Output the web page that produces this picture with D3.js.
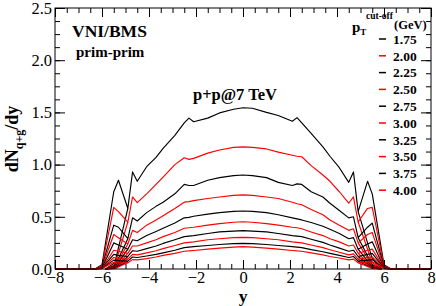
<!DOCTYPE html>
<html>
<head>
<meta charset="utf-8">
<script src="https://cdn.jsdelivr.net/npm/d3@7"></script>
<style>
  body { margin: 0; background: #fff; }
</style>
</head>
<body>
<div id="chart"></div>
<script>
// rapidity grid shared by all curves
const yGrid = [-8, -6.3, -6.0, -5.5, -5.3, -4.9, -4.7, -4.5, -4.1, -3.7, -3.4, -2.9, -2.5, -2.3, -2.1, -1.5, -1.0, -0.4,
  0, 0.4, 1.0, 1.5, 2.1, 2.3, 2.5, 2.9, 3.4, 3.7, 4.1, 4.5, 4.7, 4.9, 5.3, 5.5, 6.0, 6.3, 8];

const cutoffs = ["1.75", "2.00", "2.25", "2.50", "2.75", "3.00", "3.25", "3.50", "3.75", "4.00"];

const pt175 = [0, 0, 0.04, 0.74, 0.85, 0.58, 0.93, 0.84, 0.98, 1.07, 1.155, 1.28, 1.40, 1.445, 1.41, 1.445, 1.495, 1.53,
  1.545, 1.54, 1.50, 1.47, 1.415, 1.45, 1.40, 1.30, 1.17, 1.08, 0.97, 0.83, 0.93, 0.55, 0.84, 0.72, 0.04, 0, 0];
const pt200 = [0, 0, 0.03, 0.59, 0.55, 0.45, 0.69, 0.635, 0.72, 0.81, 0.88, 1.00, 1.065, 1.05, 1.06, 1.11, 1.14, 1.165,
  1.17, 1.165, 1.15, 1.12, 1.09, 1.08, 1.075, 0.99, 0.90, 0.84, 0.74, 0.63, 0.69, 0.45, 0.58, 0.59, 0.03, 0, 0];
const pt225 = [0, 0, 0.02, 0.42, 0.40, 0.29, 0.49, 0.46, 0.54, 0.60, 0.64, 0.72, 0.81, 0.80, 0.80, 0.85, 0.875, 0.895,
  0.90, 0.895, 0.875, 0.83, 0.80, 0.815, 0.81, 0.74, 0.69, 0.63, 0.56, 0.49, 0.50, 0.30, 0.40, 0.44, 0.02, 0, 0];
const pt250 = [0, 0, 0.015, 0.33, 0.30, 0.24, 0.37, 0.35, 0.42, 0.47, 0.51, 0.58, 0.64, 0.645, 0.655, 0.675, 0.69, 0.705,
  0.71, 0.705, 0.69, 0.675, 0.64, 0.625, 0.615, 0.57, 0.52, 0.47, 0.42, 0.37, 0.385, 0.25, 0.33, 0.35, 0.015, 0, 0];
const pt275 = [0, 0, 0.01, 0.25, 0.23, 0.19, 0.28, 0.27, 0.32, 0.36, 0.39, 0.44, 0.49, 0.495, 0.505, 0.525, 0.54, 0.552,
  0.556, 0.552, 0.54, 0.52, 0.49, 0.48, 0.47, 0.445, 0.41, 0.38, 0.34, 0.29, 0.30, 0.19, 0.24, 0.26, 0.01, 0, 0];
const pt300 = [0, 0, 0.01, 0.18, 0.17, 0.15, 0.22, 0.22, 0.25, 0.28, 0.31, 0.35, 0.39, 0.395, 0.40, 0.42, 0.435, 0.448,
  0.453, 0.448, 0.435, 0.42, 0.40, 0.395, 0.385, 0.355, 0.32, 0.29, 0.26, 0.22, 0.23, 0.15, 0.18, 0.19, 0.01, 0, 0];
const pt325 = [0, 0, 0.008, 0.14, 0.13, 0.12, 0.175, 0.17, 0.195, 0.22, 0.245, 0.28, 0.31, 0.315, 0.32, 0.34, 0.355, 0.363,
  0.367, 0.363, 0.355, 0.34, 0.32, 0.315, 0.31, 0.285, 0.255, 0.23, 0.20, 0.17, 0.18, 0.12, 0.14, 0.15, 0.008, 0, 0];
const pt350 = [0, 0, 0.006, 0.11, 0.10, 0.095, 0.14, 0.135, 0.155, 0.175, 0.195, 0.225, 0.25, 0.255, 0.26, 0.28, 0.29, 0.30,
  0.303, 0.30, 0.29, 0.28, 0.26, 0.255, 0.25, 0.23, 0.205, 0.185, 0.16, 0.135, 0.145, 0.095, 0.11, 0.115, 0.006, 0, 0];
const pt375 = [0, 0, 0.005, 0.085, 0.08, 0.075, 0.115, 0.11, 0.125, 0.14, 0.155, 0.18, 0.205, 0.21, 0.215, 0.225, 0.235, 0.243,
  0.246, 0.243, 0.235, 0.225, 0.215, 0.21, 0.205, 0.185, 0.165, 0.15, 0.13, 0.11, 0.12, 0.075, 0.085, 0.09, 0.005, 0, 0];
const pt400 = [0, 0, 0.004, 0.065, 0.06, 0.06, 0.09, 0.088, 0.10, 0.115, 0.13, 0.15, 0.17, 0.173, 0.177, 0.19, 0.20, 0.21,
  0.214, 0.21, 0.20, 0.19, 0.177, 0.173, 0.17, 0.155, 0.135, 0.12, 0.105, 0.088, 0.095, 0.06, 0.065, 0.07, 0.004, 0, 0];

// extra inner tails that leave each curve at |y| = 4.9 and drop to zero
const tailLeftX = [-5.45, -5.85];
const tailRightX = [5.5, 5.9];
const tailLeft = [0.06, 0.04, 0.03, 0.02, 0.015, 0.012, 0.01, 0.008, 0.006, 0.005];
const tailRight = [0.10, 0.06, 0.04, 0.03, 0.02, 0.015, 0.012, 0.01, 0.008, 0.006];

const series = [pt175, pt200, pt225, pt250, pt275, pt300, pt325, pt350, pt375, pt400];

const W = 436, H = 306;
const margin = { top: 8, right: 5, bottom: 37, left: 55 },
  width = W - margin.left - margin.right,
  height = H - margin.top - margin.bottom;

const serif = "'Liberation Serif', 'Times New Roman', Times, serif";

const svg = d3.select("#chart").append("svg")
  .attr("width", W)
  .attr("height", H)
  .attr("font-family", serif);

const g = svg.append("g")
  .attr("transform", `translate(${margin.left},${margin.top})`);

const x = d3.scaleLinear().domain([-8, 8]).range([0, width]);
const y = d3.scaleLinear().domain([0, 2.5]).range([height, 0]);

const color = i => (i % 2 ? "#ff0000" : "#000000");

// curves
const line = d3.line()
  .x(d => x(d[0]))
  .y(d => y(d[1]));

series.forEach((vals, i) => {
  g.append("path")
    .datum(yGrid.map((yy, k) => [yy, vals[k]]))
    .attr("fill", "none")
    .attr("stroke", color(i))
    .attr("stroke-width", 1.15)
    .attr("stroke-linejoin", "round")
    .attr("d", line);

  const jl = [yGrid[5], vals[5]], jr = [yGrid[31], vals[31]];
  g.append("path")
    .datum([jl, [tailLeftX[0], tailLeft[i]], [tailLeftX[1], 0]])
    .attr("fill", "none").attr("stroke", color(i)).attr("stroke-width", 1.15)
    .attr("d", line);
  g.append("path")
    .datum([jr, [tailRightX[0], tailRight[i]], [tailRightX[1], 0]])
    .attr("fill", "none").attr("stroke", color(i)).attr("stroke-width", 1.15)
    .attr("d", line);
});

// axes with inward ticks
const xMajor = d3.range(-8, 8.01, 2);
const xMinor = d3.range(-8, 8.01, 0.5);
const yMajor = d3.range(0, 2.51, 0.5);
const yMinor = d3.range(0, 2.51, 0.125);

function styleAxis(sel) {
  sel.attr("font-family", serif).attr("font-size", 16.5);
  sel.select(".domain").remove();
  sel.selectAll("line").attr("stroke", "#000");
  sel.selectAll("text").attr("fill", "#000");
}

g.append("g").attr("transform", `translate(0,${height})`)
  .call(d3.axisBottom(x).tickValues(xMinor).tickSize(-5).tickFormat("")).call(styleAxis);
g.append("g").attr("transform", `translate(0,${height})`)
  .call(d3.axisBottom(x).tickValues(xMajor).tickSize(-9).tickPadding(2).tickFormat(d3.format("d"))).call(styleAxis);
g.append("g")
  .call(d3.axisTop(x).tickValues(xMinor).tickSize(-5).tickFormat("")).call(styleAxis);
g.append("g")
  .call(d3.axisTop(x).tickValues(xMajor).tickSize(-9).tickFormat("")).call(styleAxis);

g.append("g")
  .call(d3.axisLeft(y).tickValues(yMinor).tickSize(-5).tickFormat("")).call(styleAxis);
g.append("g")
  .call(d3.axisLeft(y).tickValues(yMajor).tickSize(-10).tickPadding(3).tickFormat(d3.format(".1f"))).call(styleAxis);
g.append("g").attr("transform", `translate(${width},0)`)
  .call(d3.axisRight(y).tickValues(yMinor).tickSize(-5).tickFormat("")).call(styleAxis);
g.append("g").attr("transform", `translate(${width},0)`)
  .call(d3.axisRight(y).tickValues(yMajor).tickSize(-10).tickFormat("")).call(styleAxis);

g.append("rect")
  .attr("width", width).attr("height", height)
  .attr("fill", "none").attr("stroke", "#000").attr("stroke-width", 1);

// axis titles
svg.append("text")
  .attr("x", margin.left + x(0)).attr("y", 302)
  .attr("text-anchor", "middle")
  .attr("font-weight", "bold").attr("font-size", 17.5)
  .text("y");

const yl = svg.append("text")
  .attr("transform", "translate(18,139) rotate(-90)")
  .attr("text-anchor", "middle")
  .attr("font-weight", "bold").attr("font-size", 18);
yl.append("tspan").text("dN");
yl.append("tspan").attr("dy", 5).attr("font-size", 12).text("q+g");
yl.append("tspan").attr("dy", -5).text("/dy");

// annotations
svg.append("text").attr("x", 72).attr("y", 37)
  .attr("font-weight", "bold").attr("font-size", 17.5).text("VNI/BMS");
svg.append("text").attr("x", 76).attr("y", 57)
  .attr("font-weight", "bold").attr("font-size", 15).text("prim-prim");
svg.append("text").attr("x", 193).attr("y", 100)
  .attr("font-weight", "bold").attr("font-size", 16.5).text("p+p@7 TeV");

// legend
const lt = svg.append("text").attr("x", 352).attr("y", 32)
  .attr("font-weight", "bold").attr("font-size", 15);
lt.append("tspan").text("p");
lt.append("tspan").attr("dy", 3).attr("font-size", 9).text("T");
svg.append("text").attr("x", 366).attr("y", 19)
  .attr("font-weight", "bold").attr("font-size", 9.5).text("cut-off");
svg.append("text").attr("x", 394).attr("y", 29)
  .attr("font-weight", "bold").attr("font-size", 12.5).text("(GeV)");

const leg = svg.append("g");
cutoffs.forEach((c, i) => {
  const cy = 39 + i * 16.8;
  leg.append("line")
    .attr("x1", 379).attr("x2", 386).attr("y1", cy).attr("y2", cy)
    .attr("stroke", color(i)).attr("stroke-width", 1.5);
  leg.append("text")
    .attr("x", 393).attr("y", cy + 4.8)
    .attr("font-weight", "bold").attr("font-size", 13.5)
    .text(c);
});
</script>
</body>
</html>
